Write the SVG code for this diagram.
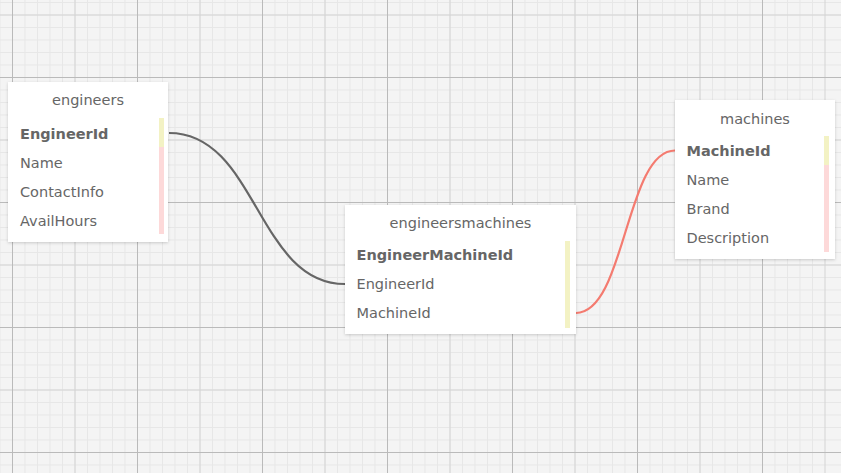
<svg xmlns="http://www.w3.org/2000/svg" width="841" height="473" viewBox="0 0 841 473">
<defs>
<filter id="sh" x="-10%" y="-10%" width="120%" height="120%">
<feDropShadow dx="0" dy="1" stdDeviation="1.5" flood-color="#000" flood-opacity="0.18"/>
</filter>
</defs>
<style>
.box{fill:#ffffff;filter:url(#sh)}
.title{font-family:"DejaVu Sans",Verdana,sans-serif;font-size:14.5px;fill:#666666;text-anchor:middle}
.f{font-family:"DejaVu Sans",Verdana,sans-serif;font-size:14.5px;fill:#666666}
.pk{font-weight:bold}
.y{fill:#f3f2c4}
.p{fill:#fdd9d9}
.conn{fill:none;stroke-width:2.2}
.gmin{fill:none;stroke:#e7e7e7;stroke-width:1}
.gmed{fill:none;stroke:#d4d4d4;stroke-width:1}
.gmaj{fill:none;stroke:#bababa;stroke-width:1}
</style>
<rect width="841" height="473" fill="#f4f4f4"/>
<g id="grid">
<path class="gmin" d="M0 0v473m12.5-473v473m12.5-473v473m12.5-473v473m12.5-473v473m12.5-473v473m12.5-473v473m12.5-473v473m12.5-473v473m12.5-473v473m12.5-473v473m12.5-473v473m12.5-473v473m12.5-473v473m12.5-473v473m12.5-473v473m12.5-473v473m12.5-473v473m12.5-473v473m12.5-473v473m12.5-473v473m12.5-473v473m12.5-473v473m12.5-473v473m12.5-473v473m12.5-473v473m12.5-473v473m12.5-473v473m12.5-473v473m12.5-473v473m12.5-473v473m12.5-473v473m12.5-473v473m12.5-473v473m12.5-473v473m12.5-473v473m12.5-473v473m12.5-473v473m12.5-473v473m12.5-473v473m12.5-473v473m12.5-473v473m12.5-473v473m12.5-473v473m12.5-473v473m12.5-473v473m12.5-473v473m12.5-473v473m12.5-473v473m12.5-473v473m12.5-473v473m12.5-473v473m12.5-473v473m12.5-473v473m12.5-473v473m12.5-473v473m12.5-473v473m12.5-473v473m12.5-473v473m12.5-473v473m12.5-473v473m12.5-473v473m12.5-473v473m12.5-473v473m12.5-473v473m12.5-473v473"/>
<path class="gmin" d="M0 2.5h841m-841 12.5h841m-841 12.5h841m-841 12.5h841m-841 12.5h841m-841 12.5h841m-841 12.5h841m-841 12.5h841m-841 12.5h841m-841 12.5h841m-841 12.5h841m-841 12.5h841m-841 12.5h841m-841 12.5h841m-841 12.5h841m-841 12.5h841m-841 12.5h841m-841 12.5h841m-841 12.5h841m-841 12.5h841m-841 12.5h841m-841 12.5h841m-841 12.5h841m-841 12.5h841m-841 12.5h841m-841 12.5h841m-841 12.5h841m-841 12.5h841m-841 12.5h841m-841 12.5h841m-841 12.5h841m-841 12.5h841m-841 12.5h841m-841 12.5h841m-841 12.5h841m-841 12.5h841m-841 12.5h841m-841 12.5h841"/>
<path class="gmed" d="M75 0v473M200 0v473M325 0v473M450 0v473M575 0v473M700 0v473M825 0v473M0 15h841M0 140h841M0 265h841M0 390h841"/>
<path class="gmaj" d="M12.5 0v473M137.5 0v473M262.5 0v473M387.5 0v473M512.5 0v473M637.5 0v473M762.5 0v473M0 77.5h841M0 202.5h841M0 327.5h841M0 452.5h841"/>
</g>

<g id="connectors">
<path class="conn" stroke="#666666" d="M169 133 C257 133 257 284 345 284"/>
<path class="conn" stroke="#f47b70" d="M576 313 C625.5 313 625.5 150.5 675 150.5"/>
</g>

<g id="engineers">
<rect class="box" x="8" y="82" width="160" height="160"/>
<text class="title" x="88" y="105">engineers</text>
<rect class="y" x="159" y="118" width="5" height="29"/>
<rect class="p" x="159" y="147" width="5" height="87"/>
<text class="f pk" x="20" y="139">EngineerId</text>
<text class="f" x="20" y="168">Name</text>
<text class="f" x="20" y="197">ContactInfo</text>
<text class="f" x="20" y="226">AvailHours</text>
</g>

<g id="engineersmachines">
<rect class="box" x="345" y="205" width="231" height="129"/>
<text class="title" x="460.5" y="228">engineersmachines</text>
<rect class="y" x="565" y="241" width="5" height="87"/>
<text class="f pk" x="356.5" y="260">EngineerMachineId</text>
<text class="f" x="356.5" y="289">EngineerId</text>
<text class="f" x="356.5" y="318">MachineId</text>
</g>

<g id="machines">
<rect class="box" x="675" y="100" width="160" height="159"/>
<text class="title" x="755" y="124">machines</text>
<rect class="y" x="824" y="136" width="5" height="29"/>
<rect class="p" x="824" y="165" width="5" height="87"/>
<text class="f pk" x="686.5" y="156">MachineId</text>
<text class="f" x="686.5" y="185">Name</text>
<text class="f" x="686.5" y="214">Brand</text>
<text class="f" x="686.5" y="243">Description</text>
</g>
</svg>
